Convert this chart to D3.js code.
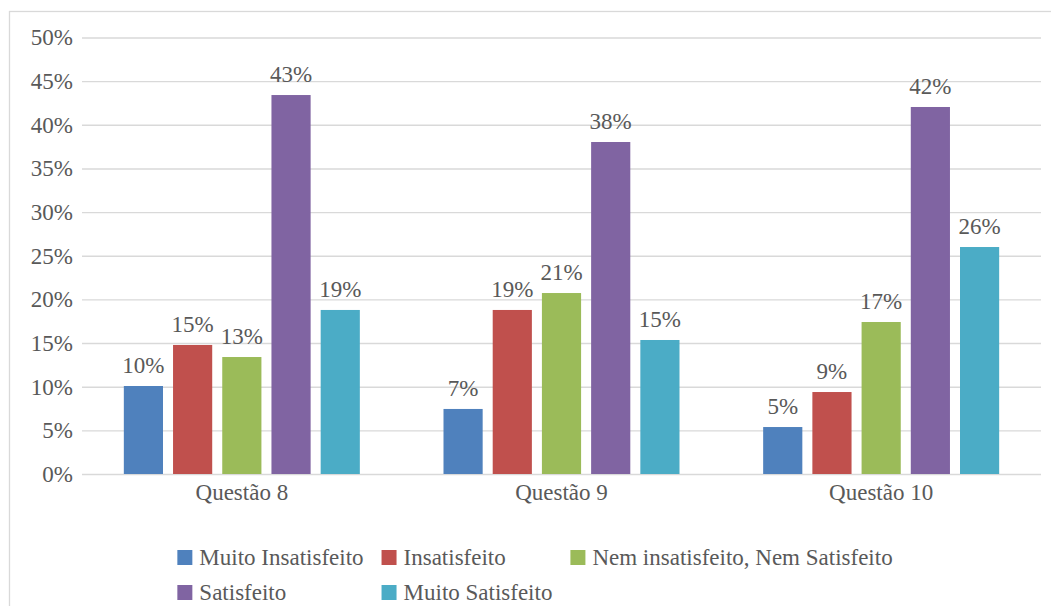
<!DOCTYPE html>
<html>
<head>
<meta charset="utf-8">
<script src="https://cdn.jsdelivr.net/npm/d3@7"></script>
<style>
  html, body { margin: 0; padding: 0; background: #fff; }
  svg { display: block; }
</style>
</head>
<body>
<svg id="chart" width="1051" height="606"></svg>
<script>
// Survey questions (x categories)
const categories = ["Questão 8", "Questão 9", "Questão 10"];

// Answer levels (series)
const series = [
  "Muito Insatisfeito",
  "Insatisfeito",
  "Nem insatisfeito, Nem Satisfeito",
  "Satisfeito",
  "Muito Satisfeito"
];

// Share of answers per question, one array per level
const muitoInsatisfeito = [0.1008, 0.0745, 0.0538];
const insatisfeito      = [0.1478, 0.1879, 0.0939];
const nemNem            = [0.1340, 0.2073, 0.1741];
const satisfeito        = [0.4341, 0.3803, 0.4204];
const muitoSatisfeito   = [0.1879, 0.1535, 0.2600];

const yTicks = [0, 0.05, 0.10, 0.15, 0.20, 0.25, 0.30, 0.35, 0.40, 0.45, 0.50];

const colors = ["#4f81bd", "#c0504d", "#9bbb59", "#8064a2", "#4bacc6"];

const seriesValues = [muitoInsatisfeito, insatisfeito, nemNem, satisfeito, muitoSatisfeito];
const rows = categories.map((c, i) => ({
  category: c,
  values: series.map((s, j) => ({ series: s, value: seriesValues[j][i] }))
}));

const svg = d3.select("#chart");
const fontSize = "23px";
const textColor = "#595959";
const plot = { left: 82, right: 1041, top: 37.5, bottom: 474 };

// Text uses the page's default serif face
function styleText(sel) {
  return sel.style("font-size", fontSize).style("fill", textColor);
}

// Outer frame (runs off the right and bottom edges)
svg.append("rect")
  .attr("x", 9.5).attr("y", 11.5)
  .attr("width", 1200).attr("height", 800)
  .attr("fill", "none")
  .attr("stroke", "#d9d9d9")
  .attr("stroke-width", 1.3);

const y = d3.scaleLinear().domain([0, 0.5]).range([plot.bottom, plot.top]);
const x0 = d3.scaleBand().domain(categories).range([plot.left, plot.right]).padding(0);
const x1 = d3.scaleBand().domain(series).range([0, x0.bandwidth()])
  .paddingInner(0.204).paddingOuter(0.85);
const color = d3.scaleOrdinal().domain(series).range(colors);
const pct = d3.format(".0%");

// Y axis with gridlines
const yAxis = svg.append("g")
  .attr("transform", `translate(${plot.left},0)`)
  .call(d3.axisLeft(y).tickValues(yTicks).tickFormat(pct)
    .tickSize(-(plot.right - plot.left)).tickPadding(9))
  .attr("font-family", null)
  .attr("font-size", null);
yAxis.select(".domain").remove();
yAxis.selectAll(".tick line").attr("stroke", "#d9d9d9").attr("stroke-width", 1.4);
styleText(yAxis.selectAll(".tick text"));

// X axis labels
const xAxis = svg.append("g")
  .attr("transform", `translate(0,${plot.bottom})`)
  .call(d3.axisBottom(x0).tickSize(0).tickPadding(9.7))
  .attr("font-family", null)
  .attr("font-size", null);
xAxis.select(".domain").remove();
styleText(xAxis.selectAll(".tick text"));

// Bars
const groups = svg.append("g").selectAll("g")
  .data(rows)
  .join("g")
  .attr("transform", d => `translate(${x0(d.category)},0)`);

groups.selectAll("rect")
  .data(d => d.values)
  .join("rect")
  .attr("x", d => x1(d.series))
  .attr("y", d => y(d.value))
  .attr("width", x1.bandwidth())
  .attr("height", d => y(0) - y(d.value))
  .attr("fill", d => color(d.series));

// Value labels
styleText(groups.selectAll("text.value")
  .data(d => d.values)
  .join("text")
  .attr("class", "value")
  .attr("x", d => x1(d.series) + x1.bandwidth() / 2)
  .attr("y", d => y(d.value) - 13)
  .attr("text-anchor", "middle")
  .text(d => pct(d.value)));

// Legend: 3 columns, column width fitted to its widest entry
const legend = svg.append("g");
const nCols = 3, swatch = 15, textGap = 22, colGap = 18, rowStep = 35;
const items = legend.selectAll("g.item")
  .data(series)
  .join("g")
  .attr("class", "item");
items.append("rect")
  .attr("width", swatch).attr("height", swatch)
  .attr("y", -swatch)
  .attr("fill", d => color(d));
styleText(items.append("text")
  .attr("x", textGap)
  .text(d => d));

const widths = [];
items.each(function (d, i) {
  const w = textGap + this.querySelector("text").getComputedTextLength();
  const c = i % nCols;
  widths[c] = Math.max(widths[c] || 0, w);
});
const colX = [0];
for (let c = 1; c < nCols; c++) colX[c] = colX[c - 1] + widths[c - 1] + colGap;
const totalW = colX[nCols - 1] + widths[nCols - 1];
const legendCenter = 535;
const legendLeft = legendCenter - totalW / 2;
const legendTop = 565;
items.attr("transform", (d, i) =>
  `translate(${legendLeft + colX[i % nCols]},${legendTop + Math.floor(i / nCols) * rowStep})`);
</script>
</body>
</html>
